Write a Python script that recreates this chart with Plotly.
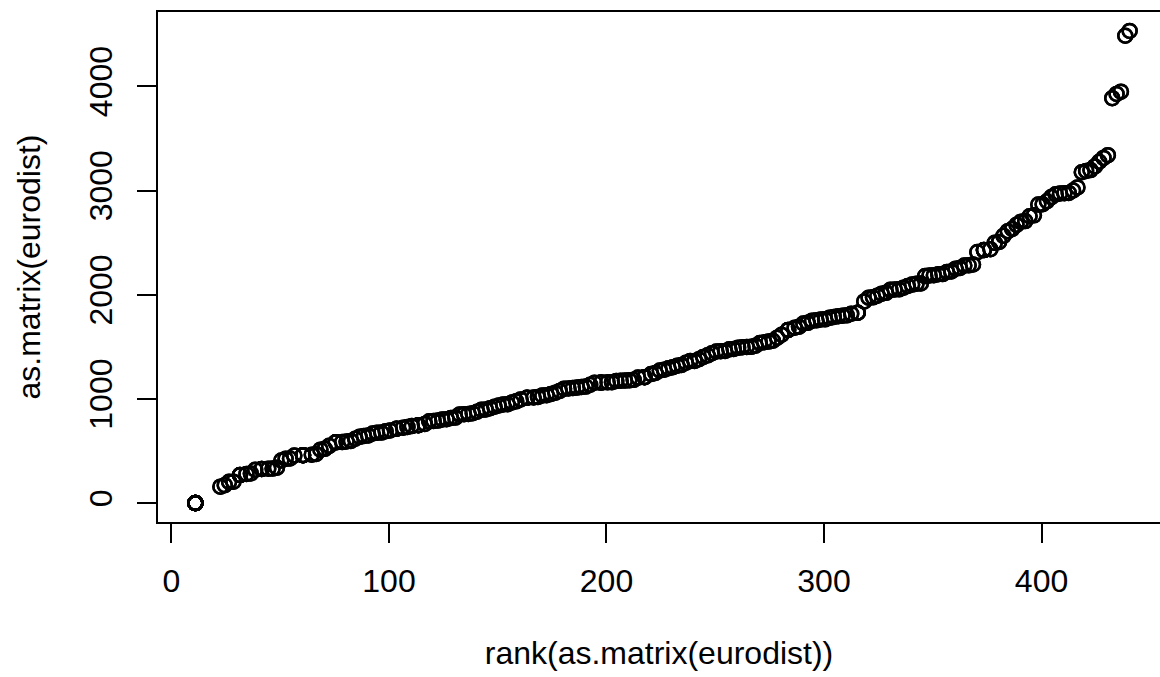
import numpy as np
import pandas as pd
import plotly.graph_objects as go

# eurodist: road distances (km) between 21 European cities (lower triangle, row-wise)
cities = ["Athens", "Barcelona", "Brussels", "Calais", "Cherbourg", "Cologne",
          "Copenhagen", "Geneva", "Gibraltar", "Hamburg", "Hook of Holland",
          "Lisbon", "Lyons", "Madrid", "Marseilles", "Milan", "Munich", "Paris",
          "Rome", "Stockholm", "Vienna"]

lower_rows = [
    [],
    [3313],
    [2963, 1318],
    [3175, 1326, 204],
    [3339, 1294, 583, 460],
    [2762, 1498, 206, 409, 785],
    [3276, 2218, 966, 1136, 1545, 760],
    [2610, 803, 677, 747, 853, 1662, 1418],
    [4485, 1172, 2256, 2224, 2047, 2436, 3196, 1975],
    [2977, 2018, 597, 714, 1115, 460, 460, 1118, 2897],
    [3030, 1490, 172, 330, 731, 269, 269, 895, 2428, 550],
    [4532, 1305, 2084, 2052, 1827, 2290, 2971, 1936, 676, 2671, 2280],
    [2753, 645, 690, 739, 789, 714, 1458, 158, 1817, 1159, 863, 1178],
    [3949, 636, 1558, 1550, 1347, 1764, 2498, 1439, 698, 2198, 1730, 668, 1281],
    [2865, 521, 1011, 1059, 1101, 1035, 1778, 425, 1693, 1479, 1183, 1762, 320, 1157],
    [2282, 1014, 925, 1077, 1209, 911, 1537, 328, 2185, 1238, 1098, 2250, 328, 1724, 618],
    [2179, 1365, 747, 977, 1160, 583, 1104, 591, 2565, 805, 851, 2507, 724, 2010, 1109, 331],
    [3000, 1033, 285, 280, 340, 465, 1176, 513, 1971, 877, 457, 1799, 471, 1273, 792, 856, 821],
    [817, 1460, 1511, 1662, 1794, 1497, 2050, 995, 2631, 1751, 1683, 2700, 1048, 2097, 1011, 586, 946, 1476],
    [3927, 2868, 1616, 1786, 2196, 1403, 650, 2068, 3886, 949, 1500, 3231, 2108, 3188, 2428, 2187, 1754, 1827, 2707],
    [1991, 1802, 1175, 1381, 1588, 937, 1455, 1019, 2974, 1155, 1205, 2937, 1157, 2409, 1363, 898, 428, 1249, 1209, 2105],
]

x_ticks = [0, 100, 200, 300, 400]
y_ticks = [0, 1000, 2000, 3000, 4000]

# build full symmetric matrix (as.matrix(eurodist))
n = len(cities)
M = np.zeros((n, n))
for i, row in enumerate(lower_rows):
    for j, v in enumerate(row):
        M[i, j] = v
        M[j, i] = v
vals = pd.Series(M.flatten(order="F"))
ranks = vals.rank(method="average")

# R-style 4% axis extension
def r_range(lo, hi):
    d = (hi - lo) * 0.04
    return lo - d, hi + d

xlo, xhi_full = r_range(ranks.min(), ranks.max())
ylo, yhi = r_range(vals.min(), vals.max())

W, H = 1160, 677
L, T, B = 158, 12, 155
# scale so the visible plot area is cropped at the right edge as in the reference
px_per_unit = (1167 - L) / (xhi_full - xlo)
xhi = xlo + (W - L) / px_per_unit

font = dict(family="Liberation Sans, Arial, sans-serif", size=32, color="black")

fig = go.Figure()
fig.add_trace(go.Scatter(
    x=ranks, y=vals, mode="markers",
    marker=dict(symbol="circle-open", size=14, color="black",
                line=dict(width=2.5, color="black")),
    showlegend=False, hoverinfo="x+y",
))

fig.update_layout(
    width=W, height=H,
    margin=dict(l=L, r=0, t=T, b=B),
    paper_bgcolor="white", plot_bgcolor="white",
    font=font,
    xaxis=dict(range=[xlo, xhi], tickvals=x_ticks, ticktext=[str(t) for t in x_ticks],
               showgrid=False, zeroline=False, showline=True, mirror=True,
               linecolor="black", linewidth=2, ticks="outside", ticklen=19,
               tickwidth=2, tickcolor="black", tickfont=font, ticklabelstandoff=11,
               title=dict(text="rank(as.matrix(eurodist))", font=font, standoff=43)),
    yaxis=dict(range=[ylo, yhi], tickvals=y_ticks, ticktext=[str(t) for t in y_ticks],
               showgrid=False, zeroline=False, showline=True, mirror=False,
               linecolor="black", linewidth=2, ticks="outside", ticklen=19,
               tickwidth=2, tickcolor="black", tickfont=font, tickangle=-90,
               ticklabelstandoff=12,
               title=dict(text="as.matrix(eurodist)", font=font, standoff=33)),
)

fig.write_html("out.html")
